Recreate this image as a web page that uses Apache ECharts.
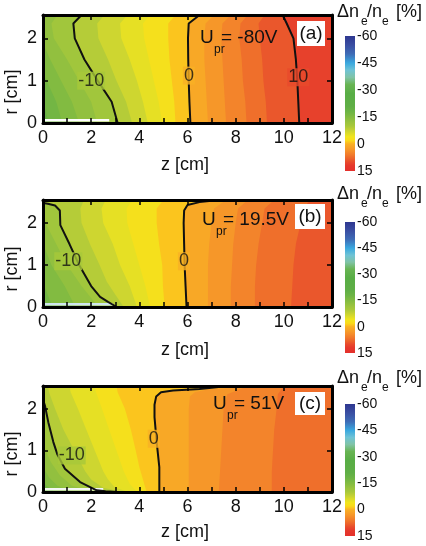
<!DOCTYPE html>
<html><head><meta charset="utf-8">
<script src="https://cdn.jsdelivr.net/npm/echarts@6/dist/echarts.min.js"></script>
<style>html,body{margin:0;padding:0;background:#fff}#c{width:426px;height:546px}</style>
</head><body><div id="c"></div>
<script>
// ---------- data ----------
const zTicks = [0, 2, 4, 6, 8, 10, 12];
const rTicks = [0, 1, 2];
const cbTicks = [-60, -45, -30, -15, 0, 15];
const voltages = ['-80V', '19.5V', '51V'];
const tags = ['(a)', '(b)', '(c)'];
const contourLevels = [-10, 0, 10];

// contour levels (Δne/ne %) and their curves as [z (cm), r (cm)] points, bottom to top
const levelsA = [-18, -16, -14, -12, -10, -8, -6, -4, -2, 0, 2, 4, 6, 8, 10];
const curvesA = [
  [[0.25,0],[0,0.5],[-0.4,1],[-0.8,1.5],[-1.2,2],[-1.5,2.55]],
  [[0.8,0],[0.55,0.5],[0.15,1],[-0.3,1.5],[-0.7,2],[-1.0,2.55]],
  [[1.5,0],[1.2,0.5],[0.75,1],[0.3,1.5],[-0.1,2],[-0.3,2.35],[-0.2,2.55]],
  [[2.25,0],[2.0,0.5],[1.5,1],[1.0,1.5],[0.45,2],[0.35,2.35],[0.6,2.55]],
  [[3.1,0],[2.85,0.5],[2.27,1],[1.72,1.5],[1.32,2],[1.26,2.35],[1.6,2.55]],
  [[3.7,0],[3.45,0.5],[3.05,1],[2.7,1.5],[2.3,2],[2.25,2.35],[2.55,2.55]],
  [[4.35,0],[4.15,0.5],[3.9,1],[3.6,1.5],[3.25,2],[3.2,2.35],[3.5,2.55]],
  [[4.95,0],[4.8,0.5],[4.6,1],[4.4,1.5],[4.2,2],[4.15,2.35],[4.45,2.55]],
  [[5.5,0],[5.45,0.5],[5.35,1],[5.25,1.5],[5.2,2],[5.2,2.35],[5.5,2.55]],
  [[6.12,0],[6.08,0.5],[6.05,1],[6.03,1.5],[6.02,2],[6.05,2.35],[6.5,2.55]],
  [[6.85,0],[6.8,0.5],[6.75,1],[6.7,1.5],[6.7,2],[6.75,2.35],[7.1,2.55]],
  [[7.6,0],[7.55,0.5],[7.5,1],[7.45,1.5],[7.4,2],[7.45,2.35],[7.8,2.55]],
  [[8.45,0],[8.4,0.5],[8.3,1],[8.25,1.5],[8.15,2],[8.2,2.35],[8.5,2.55]],
  [[9.3,0],[9.25,0.5],[9.15,1],[9.1,1.5],[9.0,2],[8.95,2.35],[9.2,2.55]],
  [[10.64,0],[10.6,0.5],[10.56,1],[10.5,1.5],[10.4,2],[10.12,2.35],[9.95,2.55]]
];
const levelsB = [-18, -16, -14, -12, -10, -8, -6, -4, -2, 0, 2, 4, 6, 8];
const curvesB = [
  [[-0.2,0],[-0.6,0.5],[-1,1],[-1.4,1.5],[-1.8,2],[-2,2.55]],
  [[0.4,0],[0.05,0.5],[-0.3,1],[-0.6,1.5],[-1,2],[-1.3,2.55]],
  [[1.35,0],[0.9,0.5],[0.35,1],[0,1.5],[-0.4,2],[-0.6,2.55]],
  [[2.3,0],[1.6,0.5],[1.0,1],[0.55,1.5],[0.1,2],[0.05,2.35],[-0.2,2.55]],
  [[3.06,0],[2.7,0.12],[2.37,0.24],[2.0,0.5],[1.5,1],[1.1,1.5],[0.72,1.95],[0.7,2.3],[0.5,2.42],[0.2,2.46],[-0.2,2.5]],
  [[3.35,0],[3.0,0.3],[2.65,0.6],[2.35,1],[1.95,1.5],[1.6,2],[1.55,2.35],[1.7,2.55]],
  [[3.9,0],[3.6,0.5],[3.2,1],[2.9,1.5],[2.5,2],[2.43,2.35],[2.6,2.55]],
  [[4.45,0],[4.25,0.5],[4.0,1],[3.75,1.5],[3.5,2],[3.47,2.35],[3.7,2.55]],
  [[5.05,0],[4.98,0.5],[4.95,1],[4.82,1.5],[4.72,2],[4.72,2.35],[5.0,2.55]],
  [[5.96,0],[5.92,0.5],[5.88,1],[5.86,1.5],[5.84,2],[5.86,2.3],[6.0,2.43],[6.5,2.5],[7.0,2.53],[7.5,2.56]],
  [[6.85,0],[6.85,0.5],[6.85,1],[6.9,1.5],[7.0,2],[7.1,2.35],[7.6,2.55]],
  [[7.8,0],[7.8,0.5],[7.85,1],[7.9,1.5],[8.0,2],[8.1,2.35],[8.5,2.55]],
  [[8.8,0],[8.8,0.5],[8.85,1],[8.95,1.5],[9.1,2],[9.2,2.35],[9.6,2.55]],
  [[10.3,0],[10.35,0.5],[10.4,1],[10.5,1.5],[10.7,2],[10.8,2.35],[11.1,2.55]]
];
const levelsC = [-16, -14, -12, -10, -8, -6, -4, -2, 0, 2, 4, 6];
const curvesC = [
  [[0.5,0],[0.15,0.15],[-0.1,0.3],[-0.4,0.5]],
  [[1.3,0],[0.6,0.15],[0.25,0.35],[0,0.6],[-0.3,0.9]],
  [[2.2,0],[1.2,0.15],[0.7,0.4],[0.35,0.7],[0.1,1.0],[-0.2,1.4]],
  [[3.1,0],[2.6,0.02],[2.23,0.04],[1.54,0.24],[0.91,0.56],[0.6,0.9],[0.43,1.2],[0.22,1.68],[0.08,2.08],[-0.1,2.4],[-0.2,2.55]],
  [[3.3,0],[2.5,0.1],[2.0,0.3],[1.75,0.5],[1.3,1],[0.85,1.5],[0.5,2],[0.25,2.4],[0.2,2.55]],
  [[3.55,0],[3.0,0.1],[2.7,0.3],[2.5,0.5],[2.15,1],[1.8,1.5],[1.45,2],[1.15,2.4],[1.1,2.55]],
  [[3.9,0],[3.6,0.2],[3.35,0.5],[3.05,1],[2.75,1.5],[2.45,2],[2.2,2.4],[2.15,2.55]],
  [[4.3,0],[4.15,0.3],[4.0,0.6],[3.85,1],[3.65,1.5],[3.4,2],[3.1,2.4],[3.05,2.55]],
  [[4.83,0],[4.83,0.6],[4.72,1.2],[4.63,1.8],[4.63,2.1],[4.7,2.3],[4.9,2.4],[5.4,2.44],[6.5,2.48],[7.2,2.52],[7.8,2.56]],
  [[6.05,0],[6.05,0.5],[6.05,1],[6.05,1.5],[6.05,2],[6.1,2.3],[6.3,2.4],[6.9,2.47],[7.8,2.5],[8.2,2.55]],
  [[7.3,0],[7.35,0.5],[7.4,1],[7.45,1.5],[7.5,2],[7.65,2.35],[8.3,2.5],[8.7,2.55]],
  [[9.5,0],[9.5,0.5],[9.55,1],[9.6,1.5],[9.7,2],[9.75,2.35],[10.0,2.55]]
];
// contour labels: [z, r, text]
const labelsA = [[2.0, 1.0, '-10'], [6.06, 1.12, '0'], [10.6, 1.08, '10']];
const labelsB = [[1.05, 1.09, '-10'], [5.85, 1.09, '0']];
const labelsC = [[1.19, 0.88, '-10'], [4.6, 1.28, '0']];
// probe along the axis: [z, r]
const probeA = [[0, 0.065], [2.75, 0.065]];
const probeB = [[0, 0.065], [2.9, 0.065]];
const probeC = [[0, 0.065], [2.5, 0.065]];

const cmapStops = [
  [-60,'#2e3790'],[-55,'#3a4ea2'],[-50,'#3e6cb6'],[-45,'#3aa8df'],[-41,'#6fc3d5'],[-37,'#80c3a6'],
  [-33,'#68b453'],[-28,'#58ad46'],[-21,'#5fae46'],[-18,'#6cb445'],[-15,'#82bb41'],[-12,'#9ac33e'],
  [-10,'#a8c83a'],[-8,'#c1d035'],[-6,'#dadb2a'],[-4,'#f1e51d'],[-2,'#f9da1b'],[-1,'#fbc51e'],
  [0,'#f9b024'],[2,'#f7a028'],[4,'#f58e2a'],[6,'#f17a2b'],[8,'#ec642b'],[10,'#e84a2c'],
  [12,'#e5382c'],[15,'#e4302c']
];

// ---------- rendering ----------
const FONT = '"Liberation Sans", Arial, sans-serif';
function hexToRgb(h){return [1,3,5].map(i=>parseInt(h.slice(i,i+2),16));}
function cmap(v){
  const s = cmapStops;
  if (v <= s[0][0]) return s[0][1];
  for (let i = 1; i < s.length; i++) {
    if (v <= s[i][0]) {
      const t = (v - s[i-1][0]) / (s[i][0] - s[i-1][0]);
      const a = hexToRgb(s[i-1][1]), b = hexToRgb(s[i][1]);
      return 'rgb(' + a.map((x,j)=>Math.round(x + (b[j]-x)*t)).join(',') + ')';
    }
  }
  return s[s.length-1][1];
}

const panels = [
  {levels: levelsA, curves: curvesA, labels: labelsA, probe: probeA, probeColor: '#ffffff'},
  {levels: levelsB, curves: curvesB, labels: labelsB, probe: probeB, probeColor: '#cfe6ef'},
  {levels: levelsC, curves: curvesC, labels: labelsC, probe: probeC, probeColor: '#f4f8f4'}
];
const layout = [
  {top: 15,  h: 108, cbTop: 36,  cbH: 135, title: 12,  zName: 165, rName: 92,  ux: 200, uy: 38,  tag: [297, 21, 28, 25]},
  {top: 200, h: 107, cbTop: 222, cbH: 131, title: 194, zName: 350, rName: 269, ux: 202, uy: 220, tag: [295, 204, 30, 25]},
  {top: 386, h: 106, cbTop: 404, cbH: 132, title: 378, zName: 532, rName: 454, ux: 213, uy: 404, tag: [295, 392, 30, 23]}
];
const RMAX = 2.55;

const grid = [], xAxis = [], yAxis = [], series = [], graphic = [];
const axisLineStyle = {show: true, onZero: false, lineStyle: {color: '#000', width: 3}};
const tickStyle = {show: true, inside: true, length: 5, lineStyle: {color: '#000', width: 1.5}};

panels.forEach((P, p) => {
  const Lo = layout[p];
  grid.push({left: 43, top: Lo.top, width: 289, height: Lo.h});
  grid.push({left: 345, top: Lo.cbTop, width: 10, height: Lo.cbH});
  const xb = xAxis.length;
  xAxis.push({gridIndex: 2*p, type: 'value', min: 0, max: 12, interval: 1, position: 'bottom', z: 10,
    axisLine: axisLineStyle, axisTick: tickStyle, splitLine: {show: false},
    axisLabel: {fontSize: 18, fontFamily: FONT, color: '#111', margin: 6,
      formatter: v => zTicks.indexOf(v) >= 0 ? String(v) : ''}});
  xAxis.push({gridIndex: 2*p, type: 'value', min: 0, max: 12, interval: 2, position: 'top', z: 10,
    axisLine: axisLineStyle, axisTick: tickStyle, splitLine: {show: false}, axisLabel: {show: false}});
  xAxis.push({gridIndex: 2*p+1, type: 'value', min: 0, max: 1, show: false});
  const yb = yAxis.length;
  yAxis.push({gridIndex: 2*p, type: 'value', min: 0, max: RMAX, interval: 1, position: 'left', z: 10,
    axisLine: axisLineStyle, axisTick: tickStyle, splitLine: {show: false},
    axisLabel: {fontSize: 18, fontFamily: FONT, color: '#111', margin: 6, showMaxLabel: false,
      formatter: v => rTicks.indexOf(v) >= 0 ? String(v) : ''}});
  yAxis.push({gridIndex: 2*p, type: 'value', min: 0, max: RMAX, interval: 1, position: 'right', z: 10,
    axisLine: axisLineStyle, axisTick: tickStyle, splitLine: {show: false}, axisLabel: {show: false}});
  yAxis.push({gridIndex: 2*p+1, type: 'value', min: -60, max: 15, interval: 15, inverse: true, position: 'right',
    axisLine: {show: false}, axisTick: {show: false}, splitLine: {show: false},
    axisLabel: {fontSize: 14, fontFamily: FONT, color: '#111', margin: 2,
      formatter: v => cbTicks.indexOf(v) >= 0 ? String(v) : ''}});

  const lv = P.levels, cv = P.curves;
  // filled bands: background + one "region right of level" polygon per level
  series.push({type: 'custom', xAxisIndex: xb, yAxisIndex: yb, clip: true, silent: true, z: 1,
    data: [null].concat(lv).map(() => [6, 1]),
    renderItem: (params, api) => {
      const i = params.dataIndex;
      let pts, val;
      if (i === 0) {
        pts = [[-4, -1], [-4, 4], [15, 4], [15, -1]];
        val = lv[0] - (lv[1] - lv[0]) / 2;
      } else {
        const k = i - 1, c = cv[k];
        pts = [[c[0][0], -1]].concat(c, [[c[c.length-1][0], 4], [15, 4], [15, -1]]);
        val = k + 1 < lv.length ? (lv[k] + lv[k+1]) / 2 : lv[k] + (lv[k] - lv[k-1]) / 2;
      }
      return {type: 'polygon', shape: {points: pts.map(q => api.coord(q))},
        style: {fill: cmap(val), stroke: null}};
    }});
  // probe
  series.push({type: 'line', xAxisIndex: xb, yAxisIndex: yb, data: P.probe, symbol: 'none', silent: true, z: 3,
    lineStyle: {color: P.probeColor, width: 2.5}});
  // black contour lines
  contourLevels.forEach(cl => {
    const k = lv.indexOf(cl);
    if (k < 0) return;
    series.push({type: 'line', xAxisIndex: xb, yAxisIndex: yb, data: cv[k], symbol: 'none', silent: true,
      clip: true, z: 4, lineStyle: {color: '#111', width: 2}});
  });
  // contour labels
  series.push({type: 'scatter', xAxisIndex: xb, yAxisIndex: yb, symbolSize: 1, silent: true, z: 5,
    itemStyle: {color: 'rgba(0,0,0,0)'},
    data: P.labels.map(l => ({value: [l[0], l[1]],
      label: {show: true, position: 'inside', formatter: l[2], fontSize: 18, fontFamily: FONT, color: '#111',
        backgroundColor: cmap(Number(l[2])), padding: [0, 1]}}))});
  // colour bar
  series.push({type: 'custom', xAxisIndex: xb + 2, yAxisIndex: yb + 2, silent: true, clip: false,
    data: [[0.5, 0]],
    renderItem: (params, api) => {
      const a = api.coord([0, -60]), b = api.coord([1, 15]);
      return {type: 'rect', shape: {x: a[0], y: Math.min(a[1], b[1]), width: b[0] - a[0], height: Math.abs(b[1] - a[1])},
        style: {fill: {type: 'linear', x: 0, y: 0, x2: 0, y2: 1,
          colorStops: cmapStops.map(s => ({offset: (s[0] + 60) / 75, color: s[1]}))}}};
    }});

  // texts
  const T = (text, x, y, size, extra) => Object.assign({type: 'text', x: x, y: y, z: 100,
    style: {text: text, font: size + 'px ' + FONT, fill: '#111', align: 'left', textAlign: 'left',
      verticalAlign: 'middle', textVerticalAlign: 'middle'}}, extra || {});
  const zn = T('z [cm]', 185, Lo.zName, 18); zn.style.align = zn.style.textAlign = 'center';
  graphic.push(zn);
  const rn = T('r [cm]', 12, Lo.rName, 18, {rotation: Math.PI / 2}); rn.style.align = rn.style.textAlign = 'center';
  graphic.push(rn);
  graphic.push(T('U', Lo.ux, Lo.uy, 19));
  graphic.push(T('pr', Lo.ux + 14, Lo.uy + 12, 12));
  graphic.push(T('= ' + voltages[p], Lo.ux + 21, Lo.uy, 19));
  graphic.push({type: 'rect', z: 99, shape: {x: Lo.tag[0], y: Lo.tag[1], width: Lo.tag[2], height: Lo.tag[3]},
    style: {fill: '#fff'}});
  const tg = T(tags[p], Lo.tag[0] + Lo.tag[2] / 2, Lo.tag[1] + Lo.tag[3] / 2, 19);
  tg.style.align = tg.style.textAlign = 'center';
  graphic.push(tg);
  graphic.push(T('\u0394n', 337, Lo.title, 18));
  graphic.push(T('e', 361, Lo.title + 10, 12));
  graphic.push(T('/n', 367, Lo.title, 18));
  graphic.push(T('e', 382, Lo.title + 10, 12));
  graphic.push(T('[%]', 396, Lo.title, 18));
});

const chart = echarts.init(document.getElementById('c'), null, {renderer: 'canvas'});
chart.setOption({animation: false, backgroundColor: '#fff', grid, xAxis, yAxis, series, graphic});
</script>
</body></html>
